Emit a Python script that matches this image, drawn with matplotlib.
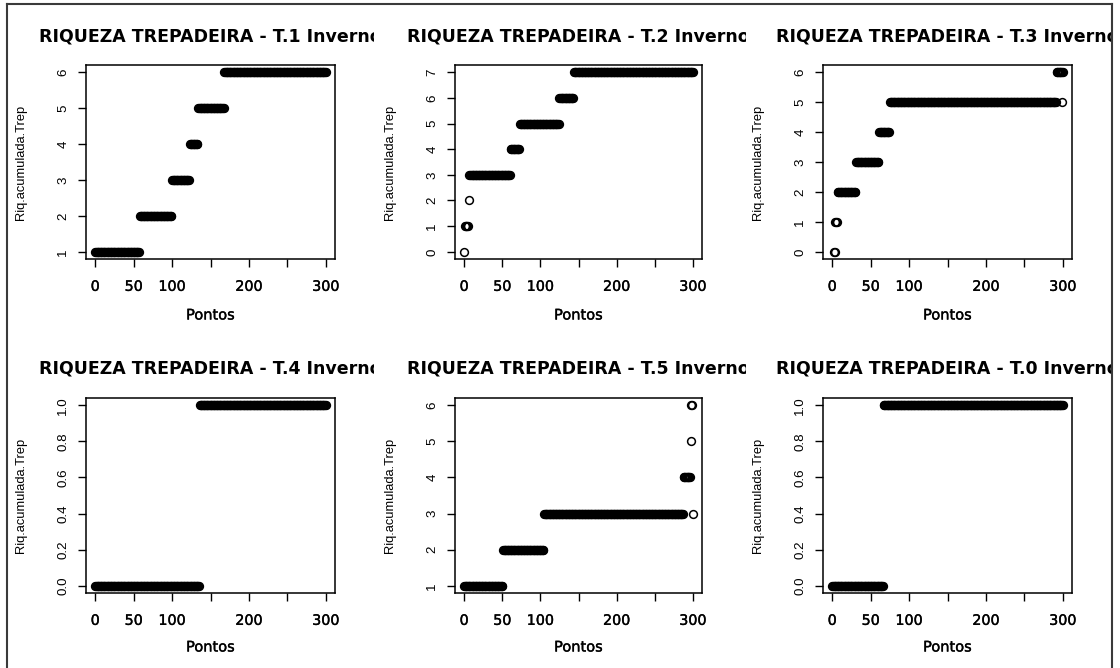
import numpy as np
import matplotlib
matplotlib.use('Agg')
import matplotlib.pyplot as plt
import matplotlib.patheffects as pe
from matplotlib.transforms import Bbox, TransformedBbox
from matplotlib.lines import Line2D

# Títulos dos painéis (ordem do mfrow 2x3)
titulos = ['RIQUEZA TREPADEIRA - T.1 Inverno', 'RIQUEZA TREPADEIRA - T.2 Inverno',
           'RIQUEZA TREPADEIRA - T.3 Inverno', 'RIQUEZA TREPADEIRA - T.4 Inverno',
           'RIQUEZA TREPADEIRA - T.5 Inverno', 'RIQUEZA TREPADEIRA - T.0 Inverno']

# Cada painel: nível de riqueza acumulada e o trecho de pontos (início, fim) em que aparece
niveis_t1 = [1, 2, 3, 4, 5, 6]
inicio_t1 = [0, 58, 100, 123, 134, 168]
fim_t1 = [57, 99, 122, 133, 167, 300]

niveis_t2 = [0, 1, 2, 3, 4, 5, 6, 7]
inicio_t2 = [0, 1, 6, 7, 61, 73, 125, 144]
fim_t2 = [0, 5, 6, 60, 72, 124, 143, 300]

niveis_t3 = [0, 1, 2, 3, 4, 5, 6, 5]
inicio_t3 = [2, 4, 7, 31, 61, 75, 292, 299]
fim_t3 = [3, 6, 30, 60, 74, 291, 300, 299]

niveis_t4 = [0, 1]
inicio_t4 = [0, 136]
fim_t4 = [135, 300]

niveis_t5 = [1, 2, 3, 4, 5, 6, 3]
inicio_t5 = [0, 51, 105, 288, 297, 298, 300]
fim_t5 = [50, 104, 287, 296, 297, 299, 300]

niveis_t0 = [0, 1]
inicio_t0 = [0, 67]
fim_t0 = [66, 300]

paineis = [(niveis_t1, inicio_t1, fim_t1), (niveis_t2, inicio_t2, fim_t2),
           (niveis_t3, inicio_t3, fim_t3), (niveis_t4, inicio_t4, fim_t4),
           (niveis_t5, inicio_t5, fim_t5), (niveis_t0, inicio_t0, fim_t0)]

xticks = [0, 50, 100, 150, 200, 250, 300]
xticklabels = ['0', '50', '100', '', '200', '', '300']

W, H = 1120, 668
fig = plt.figure(figsize=(W / 100, H / 100), dpi=100)

# posições das caixas (pixels) e limites das regiões de cada coluna
caixa_x = [(86, 335), (455, 702), (823, 1072)]
caixa_y = [(65, 259), (398, 593)]
regiao_x = [(0, 374), (374, 746), (746, 1111)]
titulo_y = [37, 369]

# traço leve para imitar o texto "engrossado" da captura
negrito = [pe.withStroke(linewidth=0.25, foreground='black')]


def pontos(niveis, inicio, fim):
    xs, ys = [], []
    for n, a, b in zip(niveis, inicio, fim):
        xx = np.arange(a, b + 1)
        xs.append(xx)
        ys.append(np.full(len(xx), n))
    return np.concatenate(xs), np.concatenate(ys)


for i, (titulo, (niveis, inicio, fim)) in enumerate(zip(titulos, paineis)):
    lin, col = divmod(i, 3)
    x0, x1 = caixa_x[col]
    y0, y1 = caixa_y[lin]
    ax = fig.add_axes([x0 / W, 1 - y1 / H, (x1 - x0) / W, (y1 - y0) / H])
    x, y = pontos(niveis, inicio, fim)
    ax.plot(x, y, 'o', mfc='none', mec='black', ms=5.6, mew=1.1, clip_on=False)

    ymin, ymax = min(niveis), max(niveis)
    r = ymax - ymin
    ax.set_xlim(-12, 312)
    ax.set_ylim(ymin - 0.04 * r, ymax + 0.04 * r)
    ax.set_xticks(xticks)
    ax.set_xticklabels(xticklabels, fontsize=10.3, family='DejaVu Sans')
    for t in ax.get_xticklabels():
        t.set_path_effects(negrito)
    if ymax == 1:
        yt = [0.0, 0.2, 0.4, 0.6, 0.8, 1.0]
        ax.set_yticks(yt)
        ax.set_yticklabels(['%.1f' % v for v in yt])
    else:
        yt = list(range(ymin, ymax + 1))
        ax.set_yticks(yt)
        ax.set_yticklabels([str(v) for v in yt])
    for t in ax.get_yticklabels():
        t.set_rotation(90)
        t.set_va('center')
        t.set_fontsize(9.6)
        t.set_family('Liberation Sans')
    ax.tick_params(axis='x', direction='out', length=6, width=1, pad=9)
    ax.tick_params(axis='y', direction='out', length=6, width=1, pad=6)
    for s in ax.spines.values():
        s.set_linewidth(1.1)

    ax.set_xlabel('Pontos', fontsize=10.5, family='DejaVu Sans', path_effects=negrito)
    ax.xaxis.set_label_coords(0.5, -(56 if lin == 0 else 54) / (y1 - y0))
    ax.xaxis.label.set_va('center')
    ax.set_ylabel('Riq.acumulada.Trep', fontsize=9.3, family='Liberation Sans')
    ax.yaxis.set_label_coords(-65 / (x1 - x0), 0.5)
    ax.yaxis.label.set_va('center')

    # título centrado sobre a caixa, cortado na borda da região do painel
    t = fig.text((x0 + x1) / 2 / W, 1 - titulo_y[lin] / H, titulo, ha='center', va='center',
                 fontsize=12.55, fontweight='bold', family='DejaVu Sans')
    rx0, rx1 = regiao_x[col]
    t.set_clip_box(TransformedBbox(Bbox([[rx0 / W, 0], [rx1 / W, 1]]), fig.transFigure))
    t.set_clip_on(True)

# moldura da captura de tela
cor = '#3a3a3a'
fig.add_artist(Line2D([7 / W, 7 / W], [0, 1 - 4 / H], color=cor, lw=1.5, transform=fig.transFigure))
fig.add_artist(Line2D([7 / W, 1112 / W], [1 - 4 / H, 1 - 4 / H], color=cor, lw=1.5, transform=fig.transFigure))
fig.add_artist(Line2D([1112 / W, 1112 / W], [0, 1 - 4 / H], color=cor, lw=1.5, transform=fig.transFigure))

fig.savefig('out.png', dpi=100)
